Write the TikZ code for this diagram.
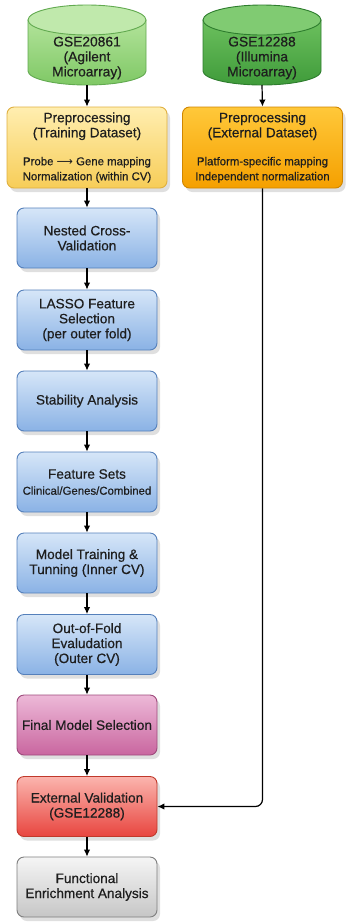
\documentclass[tikz,border=0pt]{standalone}
\usepackage{fontspec}
\setmainfont{Liberation Sans}[FakeBold=0.5]
\newfontfamily\symfont{DejaVu Sans}
\usetikzlibrary{arrows.meta,shadows,positioning}
\definecolor{gLtop}{HTML}{B2E39A}
\definecolor{gLbot}{HTML}{7FC865}
\definecolor{gLbd}{HTML}{62AA50}
\definecolor{gLcap}{HTML}{C0E9AC}
\definecolor{gRtop}{HTML}{6CC05E}
\definecolor{gRbot}{HTML}{3F9B3A}
\definecolor{gRbd}{HTML}{2E7D2E}
\definecolor{gRcap}{HTML}{80CB72}
\definecolor{yLtop}{HTML}{FFEEB0}
\definecolor{yLbot}{HTML}{F7CD58}
\definecolor{yLbd}{HTML}{E0B040}
\definecolor{oRtop}{HTML}{FFC83A}
\definecolor{oRbot}{HTML}{F5A000}
\definecolor{oRbd}{HTML}{D08600}
\definecolor{bTop}{HTML}{D6E6F8}
\definecolor{bBot}{HTML}{8AB2E5}
\definecolor{bBd}{HTML}{5580BB}
\definecolor{pTop}{HTML}{EDB9D8}
\definecolor{pBot}{HTML}{C9669F}
\definecolor{pBd}{HTML}{9E4A7C}
\definecolor{rTop}{HTML}{FBB5AE}
\definecolor{rBot}{HTML}{E8453F}
\definecolor{rBd}{HTML}{C0392B}
\definecolor{gyTop}{HTML}{F5F5F5}
\definecolor{gyBot}{HTML}{C6C6C6}
\definecolor{gyBd}{HTML}{7E7E7E}
\definecolor{txt}{HTML}{1E1E1E}
\tikzset{
  box/.style={rectangle, rounded corners=7pt, minimum width=140pt, minimum height=60pt,
    align=center, line width=0.9pt, inner sep=2pt, text=txt,
    font=\fontsize{13.6}{15}\selectfont,
    drop shadow={shadow xshift=3pt, shadow yshift=-4pt, opacity=0.25}},
  bluebox/.style={box, top color=bTop, bottom color=bBot, draw=bBd},
  prebox/.style={box, minimum width=160pt, minimum height=81pt},
  flow/.style={-{Latex[length=7pt,width=6.5pt]}, line width=1.2pt, black},
  dbtext/.style={align=center, font=\fontsize{13.8}{15}\selectfont, inner sep=0pt, text=txt}
}
\newcommand{\smalltxt}{\fontsize{11.4}{14}\selectfont}
\begin{document}
\begin{tikzpicture}[x=1pt,y=1pt]
\useasboundingbox[fill=white] (0,0) rectangle (360,-922);
% left cylinder
\shade[top color=gLtop, bottom color=gLbot, draw=gLbd, line width=0.9pt]
  (28,-20) -- (28,-71) arc[start angle=180, end angle=360, x radius=59, y radius=14] -- (146,-20) -- cycle;
\draw[fill=gLcap, draw=gLbd, line width=0.9pt] (87,-20) ellipse [x radius=59, y radius=15];
\node[dbtext] (dbL) at (87,-58) {GSE20861\\(Agilent\\Microarray)};
\coordinate (dbLb) at (87,-85);
% right cylinder
\shade[top color=gRtop, bottom color=gRbot, draw=gRbd, line width=0.9pt]
  (203,-20) -- (203,-71) arc[start angle=180, end angle=360, x radius=59, y radius=14] -- (321,-20) -- cycle;
\draw[fill=gRcap, draw=gRbd, line width=0.9pt] (262,-20) ellipse [x radius=59, y radius=15];
\node[dbtext] (dbR) at (262,-58) {GSE12288\\(Illumina\\Microarray)};
\coordinate (dbRb) at (262,-85);
% preprocessing
\node[prebox, top color=yLtop, bottom color=yLbot, draw=yLbd] (preL) at (87,-147.5)
  {Preprocessing\\(Training Dataset)\\[13pt]{\smalltxt Probe {\symfont ⟶} Gene mapping}\\{\smalltxt Normalization (within CV)}};
\node[prebox, top color=oRtop, bottom color=oRbot, draw=oRbd] (preR) at (262.5,-147.5)
  {Preprocessing\\(External Dataset)\\[13pt]{\smalltxt Platform-specific mapping}\\{\smalltxt Independent normalization}};
% main column
\node[bluebox] (ncv) at (87,-238) {Nested Cross-\\Validation};
\node[bluebox] (lasso) at (87,-320) {LASSO Feature\\Selection\\(per outer fold)};
\node[bluebox] (stab) at (87,-401) {Stability Analysis};
\node[bluebox] (feat) at (87,-482) {Feature Sets\\[1pt]{\smalltxt Clinical/Genes/Combined}};
\node[bluebox] (train) at (87,-563) {Model Training \&\\Tunning (Inner CV)};
\node[bluebox] (oof) at (87,-644.5) {Out-of-Fold\\Evaludation\\(Outer CV)};
\node[box, top color=pTop, bottom color=pBot, draw=pBd] (final) at (87,-725) {Final Model Selection};
\node[box, top color=rTop, bottom color=rBot, draw=rBd] (ext) at (87,-806.5) {External Validation\\(GSE12288)};
\node[box, top color=gyTop, bottom color=gyBot, draw=gyBd] (func) at (87,-887) {Functional\\Enrichment Analysis};
% connectors
\draw[flow] (dbLb) -- (preL.north);
\draw[flow] (dbRb) -- (preR.north);
\draw[flow] (preL) -- (ncv);
\draw[flow] (ncv) -- (lasso);
\draw[flow] (lasso) -- (stab);
\draw[flow] (stab) -- (feat);
\draw[flow] (feat) -- (train);
\draw[flow] (train) -- (oof);
\draw[flow] (oof) -- (final);
\draw[flow] (final) -- (ext);
\draw[flow] (ext) -- (func);
\draw[flow, rounded corners=7pt] (preR.south) |- (ext.east);
\end{tikzpicture}
\end{document}
